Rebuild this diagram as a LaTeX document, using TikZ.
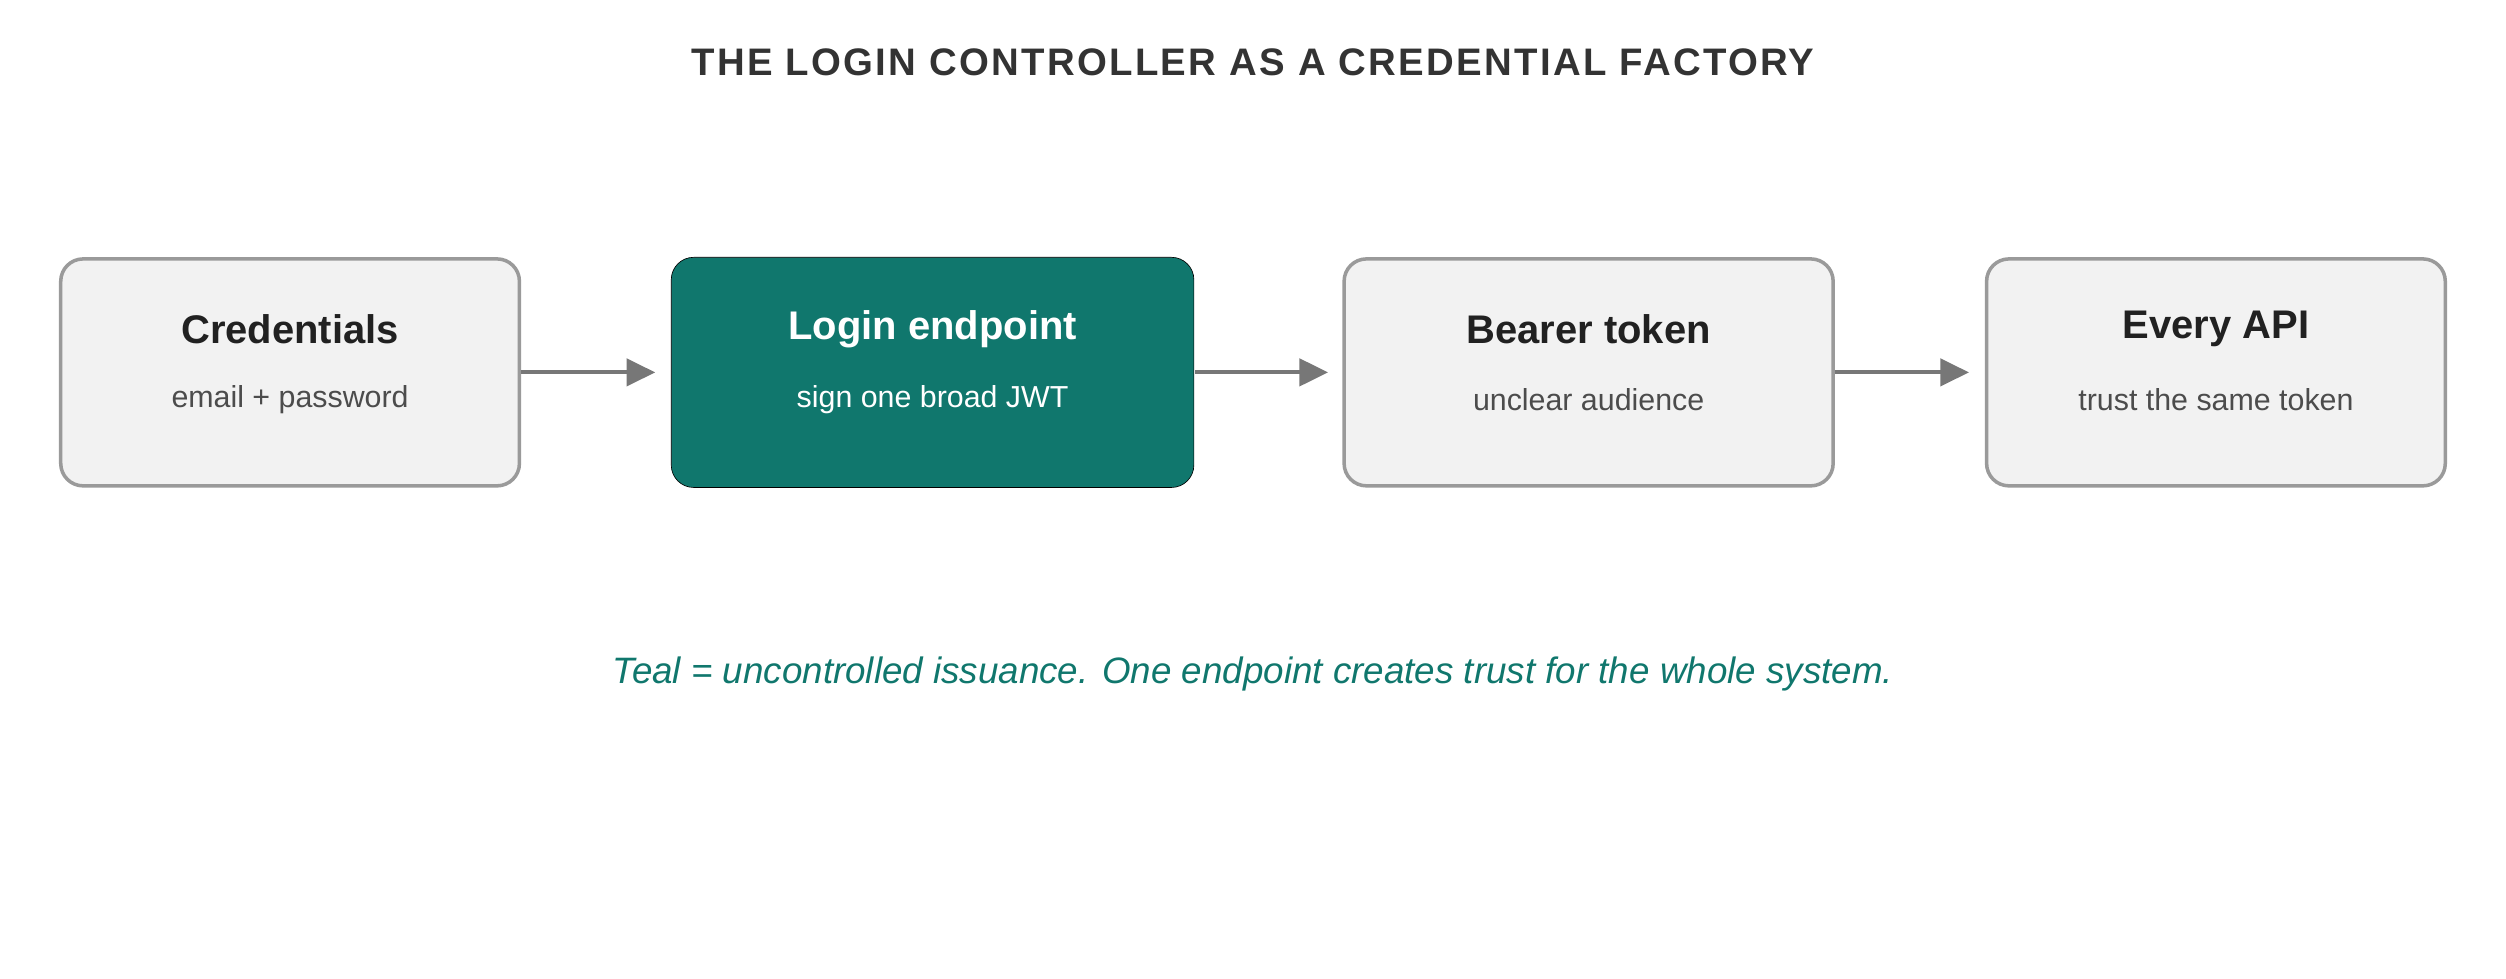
\documentclass[tikz,border=0pt]{standalone}
\usepackage{fontspec}
\setmainfont{Liberation Sans}
\usetikzlibrary{arrows.meta}
\definecolor{teal1}{HTML}{10776D}
\definecolor{boxg}{HTML}{F2F2F2}
\definecolor{edgeg}{HTML}{9A9A9A}
\definecolor{arr}{HTML}{777777}
\begin{document}
\begin{tikzpicture}[x=1pt,y=-1pt,
 box/.style={draw=edgeg,line width=2.2pt,fill=boxg,rounded corners=14pt},
 tbox/.style={fill=teal1,rounded corners=14pt},
 ttl/.style={font=\fontsize{25}{30}\selectfont\bfseries,text=black!87},
 sub/.style={font=\fontsize{19}{23}\selectfont,text=black!70},
 conn/.style={draw=arr,line width=2.6pt,-{Triangle[length=18pt,width=17pt]}}]
\useasboundingbox (0,0) rectangle (1568,612);
\node[font=\fontsize{24}{29}\selectfont\bfseries,text=black!80] (title) at (784,39) {\addfontfeature{LetterSpace=6}THE LOGIN CONTROLLER AS A CREDENTIAL FACTORY};
\draw[box] (38,162) rectangle (325,304);
\draw[tbox] (420,161) rectangle (747,305);
\draw[box] (841,162) rectangle (1147,304);
\draw[box] (1243,162) rectangle (1530,304);
\node[ttl] (t1) at (181.5,206) {Credentials};
\node[sub] (s1) at (181.5,250) {email + password};
\node[ttl,text=white] (t2) at (583.5,206) {Login endpoint};
\node[sub,text=white] (s2) at (583.5,250) {sign one broad JWT};
\node[ttl] (t3) at (994,206) {Bearer token};
\node[sub] (s3) at (994,250) {unclear audience};
\node[ttl] (t4) at (1386.5,206) {Every API};
\node[sub] (s4) at (1386.5,250) {trust the same token};
\coordinate (a1) at (326,233); \coordinate (b1) at (410,233);
\coordinate (a2) at (748,233); \coordinate (b2) at (831,233);
\coordinate (a3) at (1148,233); \coordinate (b3) at (1232,233);
\draw[conn] (a1) -- (b1);
\draw[conn] (a2) -- (b2);
\draw[conn] (a3) -- (b3);
\node[font=\fontsize{23}{28}\selectfont\itshape,text=teal1] (foot) at (784,422) {Teal = uncontrolled issuance. One endpoint creates trust for the whole system.};
\end{tikzpicture}
\end{document}
